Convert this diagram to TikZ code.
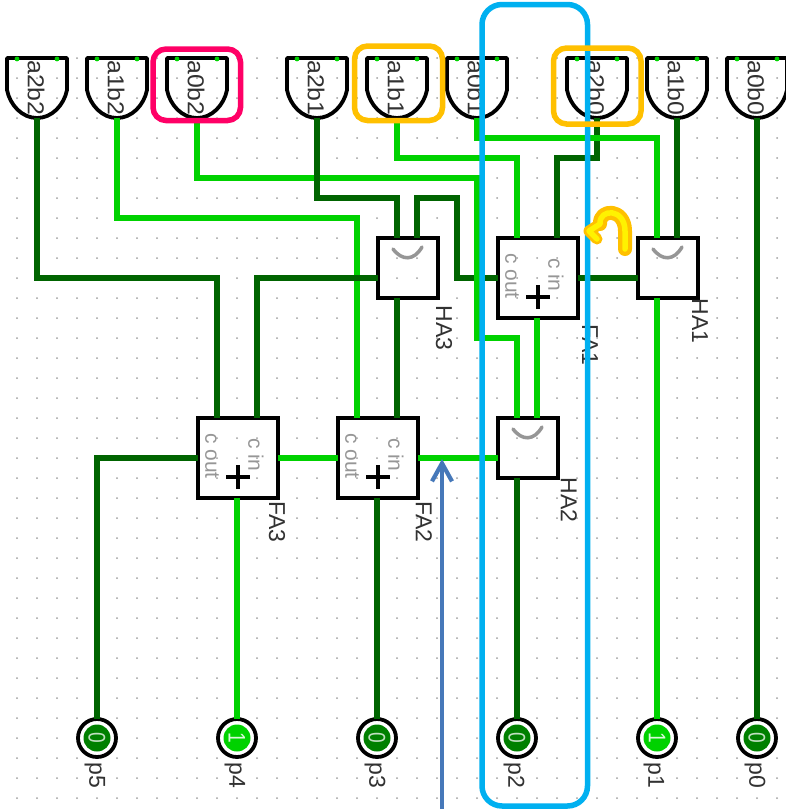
\documentclass[tikz,border=0pt]{standalone}
\usepackage{fontspec}
\setmainfont{Liberation Sans}
\usetikzlibrary{arrows.meta}
\definecolor{wdark}{RGB}{0,100,0}
\definecolor{wlit}{RGB}{0,210,0}
\definecolor{pindark}{RGB}{0,128,0}
\definecolor{pinklt}{RGB}{255,0,102}
\definecolor{amber}{RGB}{255,192,0}
\definecolor{skyb}{RGB}{0,176,240}
\definecolor{steel}{RGB}{70,120,185}
\definecolor{lab}{RGB}{50,50,50}
\definecolor{sub}{RGB}{150,150,150}
\tikzset{
  x=1pt,y=-1pt,
  griddot/.style={fill=gray!75,draw=none},
  gatenode/.style={minimum width=60pt,minimum height=60pt,inner sep=0pt,outer sep=0pt,text=lab,font=\fontsize{23}{23}\selectfont},
  gateshape/.style={draw=black,line width=3.8pt,line join=round},
  inputtick/.style={fill=wlit,draw=none},
  hanode/.style={draw=black,line width=3.8pt,minimum size=60pt,inner sep=0pt,outer sep=0pt},
  fanode/.style={draw=black,line width=3.8pt,minimum size=80pt,inner sep=0pt,outer sep=0pt},
  smile/.style={draw=sub,line width=3.5pt,line cap=round},
  plusmark/.style={draw=black,line width=3.5pt},
  wd/.style={draw=wdark,line width=5.2pt,line join=miter},
  wb/.style={draw=wlit,line width=5.2pt,line join=miter},
  tag/.style={rotate=-90,inner sep=0pt,text=lab,font=\fontsize{23}{23}\selectfont},
  subtag/.style={rotate=-90,inner sep=0pt,text=sub,font=\fontsize{21}{21}\selectfont},
  pinnode/.style={circle,draw=black,line width=3.8pt,fill=white,minimum size=38pt,inner sep=0pt,outer sep=0pt},
  pincore/.style={circle,minimum size=27pt,inner sep=0pt,draw=none,rotate=-90,font=\fontsize{24}{24}\selectfont},
  hilite/.style={line width=5.5pt,rounded corners=13pt},
}
\newcommand{\mkgate}[3]{% name, x, label
  \node[gatenode] (#1) at (#2,88) {};
  \node[gatenode] at (#2-1,88) {\rotatebox{-90}{\scalebox{1.08}[1]{#3}}};
  \draw[gateshape] (#2-30,58) -- (#2+30,58) -- (#2+30,90) .. controls (#2+27,105) and (#2+15,118) .. (#2,118) .. controls (#2-15,118) and (#2-27,105) .. (#2-30,90) -- cycle;
  \fill[inputtick] (#2-20,59) circle (2.4pt);
  \fill[inputtick] (#2+20,59) circle (2.4pt);
}
\newcommand{\mkha}[3]{% name, x, y (centre)
  \node[hanode] (#1) at (#2,#3) {};
  \draw[smile] (#2-15,#3-19) .. controls (#2-6,#3-7) and (#2+6,#3-7) .. (#2+14,#3-21);
}
\newcommand{\mkfa}[3]{% name, x, y (centre)
  \node[fanode] (#1) at (#2,#3) {};
  \draw[plusmark] (#2-12,#3+19) -- (#2+12,#3+19);
  \draw[plusmark] (#2,#3+7) -- (#2,#3+31);
  \node[subtag] at (#2-26,#3-2) {c out};
  \node[subtag] at (#2+18,#3-3) {c in};
}
\newcommand{\mkpin}[5]{% name, x, fill, digit colour, digit
  \node[pinnode] (#1) at (#2,738) {};
  \node[pincore,fill=#3,text=#4] at (#2,738) {\scalebox{0.8}[1]{#5}};
}
\begin{document}
\begin{tikzpicture}
\useasboundingbox (0,0) rectangle (785,809);
\fill[white] (0,0) rectangle (785,809);
% grid
\foreach \gx in {17,37,...,777}
  \foreach \gy in {58,78,...,798}
    \fill[griddot] (\gx,\gy) circle (1pt);
% gates
\mkgate{ga2b2}{37}{a2b2}
\mkgate{ga1b2}{117}{a1b2}
\mkgate{ga0b2}{197}{a0b2}
\mkgate{ga2b1}{317}{a2b1}
\mkgate{ga1b1}{397}{a1b1}
\mkgate{ga0b1}{477}{a0b1}
\mkgate{ga2b0}{597}{a2b0}
\mkgate{ga1b0}{677}{a1b0}
\mkgate{ga0b0}{757}{a0b0}
% adders
\mkha{ha3}{408}{268}
\mkfa{fa1}{538}{278}
\mkha{ha1}{668}{268}
\mkfa{fa3}{238}{458}
\mkfa{fa2}{378}{458}
\mkha{ha2}{528}{448}
% adder labels
\node[tag] (lha3) at (444,328) {HA3};
\node[tag] (lfa1) at (590,345) {FA1};
\node[tag] (lha1) at (700,321) {HA1};
\node[tag] (lfa3) at (277,522) {FA3};
\node[tag] (lfa2) at (424,522) {FA2};
\node[tag] (lha2) at (569,500) {HA2};
% pins
\mkpin{p5}{97}{pindark}{white!75!pindark}{0}
\mkpin{p4}{237}{wlit}{white!85!wlit}{1}
\mkpin{p3}{377}{pindark}{white!75!pindark}{0}
\mkpin{p2}{517}{pindark}{white!75!pindark}{0}
\mkpin{p1}{657}{wlit}{white!85!wlit}{1}
\mkpin{p0}{757}{pindark}{white!75!pindark}{0}
\node[tag] (lp5) at (95,775) {p5};
\node[tag] (lp4) at (235,775) {p4};
\node[tag] (lp3) at (375,775) {p3};
\node[tag] (lp2) at (514,775) {p2};
\node[tag] (lp1) at (654,775) {p1};
\node[tag] (lp0) at (755,775) {p0};
% wires
\draw[wd] ([xshift=9pt]ha3.north) -- (417,198) -- (457,198) -- (457,278) -- (fa1.west);
\draw[wb] (ga0b2.south) |- (477,178) -- (477,338) -- (517,338) -- ([xshift=-11pt]ha2.north);
\draw[wd] (ga2b1.south) |- (397,198) -- ([xshift=-11pt]ha3.north);
\draw[wd] (ga2b2.south) |- (217,278) -- ([xshift=-21pt]fa3.north);
\draw[wb] (ga1b2.south) |- (357,218) -- ([xshift=-21pt]fa2.north);
\draw[wd] ([yshift=-10pt]ha3.west) -- (257,278) -- ([xshift=19pt]fa3.north);
\draw[wd] ([xshift=-11pt]ha3.south) -- ([xshift=19pt]fa2.north);
\draw[wb] (ga1b1.south) |- (517,158) -- ([xshift=-21pt]fa1.north);
\draw[wd] (ga2b0.south) |- (557,158) -- ([xshift=19pt]fa1.north);
\draw[wb] (ga0b1.south) |- (657,138) -- ([xshift=-11pt]ha1.north);
\draw[wd] (ga1b0.south) -- ([xshift=9pt]ha1.north);
\draw[wd] (ga0b0.south) -- (p0.north);
\draw[wd] ([yshift=-10pt]ha1.west) -- (fa1.east);
\draw[wb] ([xshift=-11pt]ha1.south) -- (p1.north);
\draw[wb] ([xshift=-1pt]fa1.south) -- ([xshift=9pt]ha2.north);
\draw[wd] ([xshift=-11pt]ha2.south) -- (p2.north);
\draw[wb] ([yshift=-10pt]ha2.west) -- (fa2.east);
\draw[wb] (fa2.west) -- (fa3.east);
\draw[wd] (fa3.west) -| (p5.north);
\draw[wb] ([xshift=-1pt]fa3.south) -- (p4.north);
\draw[wd] ([xshift=-1pt]fa2.south) -- (p3.north);
% highlights
\draw[hilite,rounded corners=20pt,draw=skyb] (482,4.5) rectangle (587.5,806);
\draw[hilite,draw=pinklt] (153,49) rectangle (240.5,120.5);
\draw[hilite,draw=amber] (354.5,46) rectangle (442.5,120.5);
\draw[hilite,draw=amber] (553.5,48) rectangle (641,124);
% blue arrow
\coordinate (arrowfoot) at (442,809);
\coordinate (arrowtip) at (442,459);
\draw[draw=steel,line width=4.2pt,-{Straight Barb[length=18pt,width=20pt,line width=4.2pt]}] (arrowfoot) -- (arrowtip);
% yellow u-turn
\coordinate (ustart) at (625,249);
\draw[amber,line width=14pt,line join=round,line cap=round]
  (ustart) -- (625,231) .. controls (625,208) and (599,208) .. (600,224);
\draw[amber,line width=11pt,line join=round,line cap=round]
  (600,224) -- (589,231) -- (597,239);
\draw[yellow,line width=5.5pt,line join=round,line cap=round]
  (ustart) -- (625,231) .. controls (625,208) and (599,208) .. (600,224) -- (589,231) -- (597,239);
\end{tikzpicture}
\end{document}
